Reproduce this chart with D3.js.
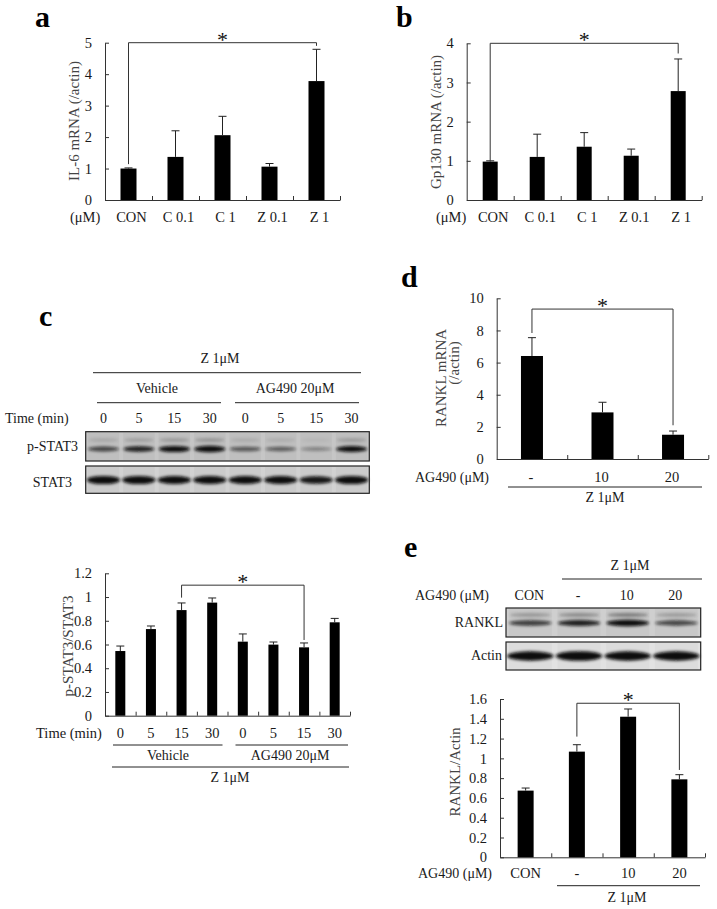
<!DOCTYPE html>
<html><head><meta charset="utf-8">
<script src="https://cdn.jsdelivr.net/npm/d3@7"></script>
<style>body{margin:0;background:#fff}svg{display:block}text{font-family:"Liberation Serif","Times New Roman",serif}</style>
</head><body>
<script>
// ---------- DATA ----------
const catsAB = ['CON','C 0.1','C 1','Z 0.1','Z 1'];
const il6 = [1.0, 1.37, 2.06, 1.06, 3.78];
const il6Err = [0.02, 0.83, 0.60, 0.10, 1.01];
const gp130 = [0.98, 1.10, 1.36, 1.13, 2.78];
const gp130Err = [0.02, 0.58, 0.36, 0.17, 0.82];
const timeLabels = ['0','5','15','30','0','5','15','30'];
const pstat3 = [0.545, 0.73, 0.89, 0.953, 0.624, 0.599, 0.576, 0.787];
const pstat3Err = [0.042, 0.026, 0.06, 0.039, 0.065, 0.022, 0.037, 0.033];
const ag490Cats = ['-','10','20'];
const rankMrna = [6.41, 2.90, 1.51];
const rankMrnaErr = [1.14, 0.63, 0.23];
const eCats = ['CON','-','10','20'];
const rankActin = [0.674, 1.068, 1.421, 0.788];
const rankActinErr = [0.026, 0.07, 0.078, 0.047];
const ticksA = [0,1,2,3,4,5];
const ticksB = [0,1,2,3,4];
const ticksC = [0,0.2,0.4,0.6,0.8,1,1.2];
const ticksD = [0,2,4,6,8,10];
const ticksE = [0,0.2,0.4,0.6,0.8,1,1.2,1.4,1.6];
// blot band intensities (0..1)
const pstatBands = [0.55,0.75,0.9,1.0,0.45,0.42,0.2,0.85];
const stat3Bands = [0.95,0.95,0.9,0.9,0.9,0.92,0.8,0.95];
const rankBands = [0.6,0.75,0.95,0.55];
const actinBands = [0.95,1.0,0.95,0.95];

// ---------- SETUP ----------
const svg = d3.select('body').append('svg').attr('width',717).attr('height',909);
svg.append('rect').attr('width',717).attr('height',909).attr('fill','#fff');
const defs = svg.append('defs');
defs.append('filter').attr('id','blur').attr('x','-20%').attr('y','-100%').attr('width','140%').attr('height','300%')
  .append('feGaussianBlur').attr('stdDeviation',1.4);
const AX = '#333', TX = '#1a1a1a', LBL = '#444';
const fmt = d => String(+(+d).toFixed(1));

function txt(x,y,s,opt={}){
  return svg.append('text').attr('x',x).attr('y',y).text(s)
    .attr('font-size',opt.size||14).attr('fill',opt.fill||TX)
    .attr('text-anchor',opt.anchor||'start').attr('font-weight',opt.weight||'normal');
}
function hline(x1,x2,y,w=1){
  svg.append('line').attr('x1',x1).attr('x2',x2).attr('y1',y).attr('y2',y).attr('stroke','#222').attr('stroke-width',w);
}
function panelLetter(x,y,s){ txt(x,y,s,{size:30,weight:'bold',fill:'#000'}); }

function barPanel(c){
  const g = svg.append('g');
  const n = c.values.length;
  const x = d3.scaleBand().domain(d3.range(n)).range([c.left,c.right]);
  const xi = d3.scaleLinear().domain([0,n]).range([c.left,c.right]);
  const y = d3.scaleLinear().domain([0,c.max]).range([c.bottom,c.top]);
  const cx = i => x(i) + x.bandwidth()/2;
  // y axis (ticks inward)
  const ya = g.append('g').attr('transform',`translate(${c.left},0)`)
    .call(d3.axisLeft(y).tickValues(c.ticks).tickFormat(fmt).tickSize(-4).tickSizeOuter(0).tickPadding(13));
  ya.select('.domain').attr('stroke',AX);
  ya.selectAll('line').attr('stroke',AX);
  ya.selectAll('text').attr('font-size',14.5).attr('fill',TX).attr('font-family','"Liberation Serif",serif');
  // x axis (ticks inward at band boundaries)
  const xa = g.append('g').attr('transform',`translate(0,${c.bottom})`)
    .call(d3.axisBottom(xi).tickValues(d3.range(1,n+1)).tickFormat('').tickSize(-4).tickSizeOuter(0));
  xa.select('.domain').attr('stroke',AX);
  xa.selectAll('line').attr('stroke',AX);
  // bars
  g.selectAll('rect.bar').data(c.values).join('rect').attr('class','bar')
    .attr('x',(d,i)=>cx(i)-c.barW/2).attr('width',c.barW)
    .attr('y',d=>y(d)).attr('height',d=>c.bottom-y(d)).attr('fill','#000');
  // error bars
  const eb = g.selectAll('g.err').data(c.values.map((v,i)=>({v,e:c.errors[i],i}))).join('g').attr('class','err');
  eb.append('line').attr('x1',d=>cx(d.i)).attr('x2',d=>cx(d.i)).attr('y1',d=>y(d.v)).attr('y2',d=>y(d.v+d.e)).attr('stroke','#222').attr('stroke-width',1);
  eb.append('line').attr('x1',d=>cx(d.i)-c.cap).attr('x2',d=>cx(d.i)+c.cap).attr('y1',d=>y(d.v+d.e)).attr('y2',d=>y(d.v+d.e)).attr('stroke','#222').attr('stroke-width',1);
  // significance bracket
  const b = c.bracket;
  g.append('path').attr('d',`M${cx(b.i)},${y(b.leftEnd)}V${y(b.level)}H${cx(b.j)}V${y(b.rightEnd)}`)
    .attr('fill','none').attr('stroke','#333').attr('stroke-width',1);
  g.append('text').attr('x',(cx(b.i)+cx(b.j))/2).attr('y',y(b.level)+4).attr('text-anchor','middle')
    .attr('font-size',22).attr('fill','#111').text('*');
  // y label(s)
  c.ylabel.forEach(l=>{
    g.append('text').attr('transform',`translate(${l.x},${l.y}) rotate(-90)`).attr('text-anchor','middle')
      .attr('font-size',15).attr('fill',LBL).text(l.t);
  });
  // category labels
  if(c.cats){
    g.selectAll('text.cat').data(c.cats).join('text').attr('class','cat')
      .attr('x',(d,i)=>cx(i)+(c.catDx||0)).attr('y',c.catY).attr('text-anchor','middle')
      .attr('font-size',14.5).attr('fill',TX).text(d=>d);
  }
  return {x,cx,y};
}

function blot(x0,x1,y0,y1,bands,o){
  const n = bands.length;
  const lx = d3.scaleBand().domain(d3.range(n)).range([x0,x1]);
  const g = svg.append('g');
  g.append('rect').attr('x',x0).attr('y',y0).attr('width',x1-x0).attr('height',y1-y0).attr('fill',o.bg);
  // lane streaks
  g.selectAll('rect.lane').data(bands).join('rect').attr('class','lane')
    .attr('x',(d,i)=>lx(i)+lx.bandwidth()*0.06).attr('width',lx.bandwidth()*0.88)
    .attr('y',y0+1).attr('height',y1-y0-2).attr('fill',o.laneFill).attr('opacity',0.5);
  if(o.upper){
    g.selectAll('ellipse.up').data(bands).join('ellipse').attr('class','up')
      .attr('cx',(d,i)=>lx(i)+lx.bandwidth()/2).attr('cy',o.upper.y)
      .attr('rx',lx.bandwidth()*0.42).attr('ry',o.upper.ry)
      .attr('fill','#222').attr('opacity',d=>d*o.upper.op).attr('filter','url(#blur)');
  }
  g.selectAll('ellipse.band').data(bands).join('ellipse').attr('class','band')
    .attr('cx',(d,i)=>lx(i)+lx.bandwidth()/2).attr('cy',o.bandY)
    .attr('rx',lx.bandwidth()*o.rx).attr('ry',d=>o.ry*(0.5+0.5*d))
    .attr('fill','#0a0a0a').attr('opacity',d=>Math.min(1,0.15+d)).attr('filter','url(#blur)');
  g.append('rect').attr('x',x0).attr('y',y0).attr('width',x1-x0).attr('height',y1-y0)
    .attr('fill','none').attr('stroke','#222').attr('stroke-width',1.2);
  return lx;
}

// ---------- PANEL a ----------
panelLetter(35,27,'a');
barPanel({left:105,right:340,bottom:200,top:42.7,max:5,ticks:ticksA,values:il6,errors:il6Err,barW:16,cap:4,
  bracket:{i:0,j:4,level:5,leftEnd:1.14,rightEnd:4.9},
  ylabel:[{x:79,y:121,t:'IL-6 mRNA (/actin)'}],cats:catsAB,catY:222,catDx:3});
txt(70,222,'(μM)',{size:14.5});

// ---------- PANEL b ----------
panelLetter(396,27,'b');
barPanel({left:466.7,right:701.7,bottom:200,top:43.3,max:4,ticks:ticksB,values:gp130,errors:gp130Err,barW:15,cap:4,
  bracket:{i:0,j:4,level:4,leftEnd:1.0,rightEnd:3.74},
  ylabel:[{x:441,y:122,t:'Gp130 mRNA (/actin)'}],cats:catsAB,catY:222,catDx:3});
txt(436,222,'(μM)',{size:14.5});

// ---------- PANEL c (blot) ----------
panelLetter(39,326,'c');
txt(220,363,'Z 1μM',{anchor:'middle'});
hline(93,361,372.7);
txt(157,393,'Vehicle',{anchor:'middle'});
txt(295,393,'AG490 20μM',{anchor:'middle'});
hline(97,221,402.7); hline(235,359,402.7);
txt(5,423,'Time  (min)');
const laneC = d3.scaleBand().domain(d3.range(8)).range([85.7,369.3]);
timeLabels.forEach((t,i)=>txt(laneC(i)+laneC.bandwidth()/2,423,t,{anchor:'middle'}));
blot(85.7,369.3,431.7,461,pstatBands,{bg:'#c6c6c6',laneFill:'#b8b8b8',bandY:449,rx:0.44,ry:3.2,
  upper:{y:440,ry:2,op:0.25}});
blot(85.7,369.3,466,493.3,stat3Bands,{bg:'#d2d2d2',laneFill:'#c4c4c4',bandY:480,rx:0.47,ry:4.2});
txt(78,451,'p-STAT3',{anchor:'end'});
txt(72,487,'STAT3',{anchor:'end'});

// ---------- PANEL c (chart) ----------
const pc = barPanel({left:105,right:350,bottom:715.7,top:573.3,max:1.2,ticks:ticksC,values:pstat3,errors:pstat3Err,barW:10,cap:4,
  bracket:{i:2,j:6,level:1.10,leftEnd:0.995,rightEnd:0.638},
  ylabel:[{x:73,y:646,t:'p-STAT3/STAT3'}],cats:timeLabels,catY:738});
txt(36,738,'Time (min)',{size:14.5});
hline(pc.x(0)+8,pc.x(3)+pc.x.bandwidth()-5,745);
hline(pc.x(4)+8,pc.x(7)+pc.x.bandwidth()-2,745);
txt(168,760,'Vehicle',{anchor:'middle'});
txt(290,760,'AG490 20μM',{anchor:'middle'});
hline(112,349,767);
txt(230,782,'Z 1μM',{anchor:'middle'});

// ---------- PANEL d ----------
panelLetter(401,287,'d');
const pd = barPanel({left:496.7,right:708.3,bottom:459,top:298.3,max:10,ticks:ticksD,values:rankMrna,errors:rankMrnaErr,barW:22,cap:4,
  bracket:{i:0,j:2,level:9.33,leftEnd:7.84,rightEnd:2.1},
  ylabel:[{x:446,y:378,t:'RANKL mRNA'},{x:459,y:363,t:'(/actin)'}],cats:ag490Cats,catY:482,catDx:-1});
txt(415,482,'AG490 (μM)');
hline(508,702,487);
txt(605,502,'Z 1μM',{anchor:'middle'});

// ---------- PANEL e (blot) ----------
panelLetter(404,557,'e');
txt(630,570,'Z 1μM',{anchor:'middle'});
hline(562,702,579);
txt(415,600,'AG490 (μM)');
const laneE = d3.scaleBand().domain(d3.range(4)).range([506,700.7]);
eCats.forEach((t,i)=>txt(laneE(i)+laneE.bandwidth()/2-1,600,t,{anchor:'middle'}));
blot(506,700.7,608,637,rankBands,{bg:'#cfcfcf',laneFill:'#c2c2c2',bandY:623,rx:0.44,ry:3.4,
  upper:{y:615,ry:2.2,op:0.45}});
blot(506,700.7,642,670,actinBands,{bg:'#e2e2e2',laneFill:'#d6d6d6',bandY:656,rx:0.48,ry:4.8});
txt(503,627,'RANKL',{anchor:'end'});
txt(502,660,'Actin',{anchor:'end'});

// ---------- PANEL e (chart) ----------
const pe = barPanel({left:500,right:705,bottom:857.3,top:699,max:1.6,ticks:ticksE,values:rankActin,errors:rankActinErr,barW:16,cap:4,
  bracket:{i:1,j:3,level:1.557,leftEnd:1.22,rightEnd:0.883},
  ylabel:[{x:460,y:772,t:'RANKL/Actin'}],cats:eCats,catY:878});
txt(418,878,'AG490 (μM)');
hline(557,700,885.7);
txt(627,901.7,'Z 1μM',{anchor:'middle'});
</script>
</body></html>
